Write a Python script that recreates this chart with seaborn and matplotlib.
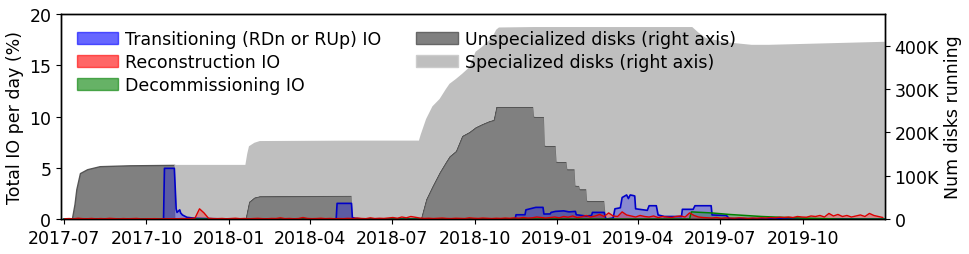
import matplotlib
matplotlib.use("Agg")
import numpy as np
import pandas as pd
import matplotlib.pyplot as plt
import matplotlib.dates as mdates
from matplotlib.ticker import FuncFormatter
from matplotlib.patches import Patch
import seaborn as sns

# ---------------- data ----------------
# disks running (thousands), stacked: unspecialized at bottom, specialized on top
disk_dates = ["2017-07-07", "2017-07-10", "2017-07-13", "2017-07-15", "2017-07-19", "2017-07-27",
              "2017-08-10", "2017-09-12", "2017-11-01", "2017-11-02", "2018-01-19", "2018-01-21",
              "2018-01-23", "2018-01-29", "2018-02-04", "2018-05-17", "2018-05-18", "2018-07-31",
              "2018-08-02", "2018-08-08", "2018-08-15", "2018-08-23", "2018-08-30", "2018-09-03",
              "2018-09-10", "2018-09-17", "2018-09-25", "2018-10-02", "2018-10-09", "2018-10-17",
              "2018-10-22", "2018-10-25", "2018-10-28", "2018-12-05", "2018-12-06", "2018-12-17",
              "2018-12-18", "2018-12-30", "2018-12-31", "2019-01-11", "2019-01-12", "2019-01-20",
              "2019-01-21", "2019-01-25", "2019-01-26", "2019-02-02", "2019-02-03", "2019-02-22",
              "2019-02-24", "2019-05-31", "2019-06-07", "2019-06-15", "2019-07-07", "2019-08-05",
              "2019-08-24", "2019-12-31"]
unspecialized_k = [0, 0, 35, 69, 106, 115,
                   122, 124, 125, 0, 0, 20,
                   40, 50, 53, 54, 0, 0,
                   0, 46, 76, 108, 132, 145,
                   157, 192, 201, 212, 219, 226,
                   229, 259, 259, 259, 236, 236,
                   169, 169, 132, 132, 115, 115,
                   77, 77, 69, 69, 42, 42,
                   0, 0, 0, 0, 0, 0,
                   0, 0]
specialized_k = [0, 0, 0, 0, 0, 0,
                 0, 0, 0, 125, 125, 130,
                 128, 126, 127, 127, 181, 181,
                 195, 185, 184, 169, 168, 167,
                 166, 143, 149, 174, 178, 186,
                 196, 178, 183, 184, 207, 207,
                 274, 274, 311, 311, 328, 328,
                 366, 366, 374, 374, 401, 401,
                 443, 443, 430, 418, 408, 402,
                 402, 409]

# Transitioning (RDn or RUp) IO, % of total IO per day
transition_dates = ["2017-07-01", "2017-10-20", "2017-10-21", "2017-11-01", "2017-11-03", "2017-11-04",
                    "2017-11-07", "2017-11-08", "2017-11-10", "2017-11-15", "2017-11-25", "2017-12-15",
                    "2018-01-12", "2018-04-30", "2018-05-01", "2018-05-17", "2018-05-18", "2018-05-22",
                    "2018-06-01", "2018-11-15", "2018-11-16", "2018-11-26", "2018-11-27", "2018-12-08",
                    "2018-12-16", "2018-12-17", "2018-12-24", "2018-12-25", "2018-12-30", "2019-01-08",
                    "2019-01-14", "2019-01-21", "2019-01-22", "2019-02-02", "2019-02-08", "2019-02-09",
                    "2019-02-22", "2019-02-24", "2019-03-04", "2019-03-06", "2019-03-12", "2019-03-14",
                    "2019-03-19", "2019-03-21", "2019-03-23", "2019-03-26", "2019-03-28", "2019-03-29",
                    "2019-04-11", "2019-04-13", "2019-04-21", "2019-04-23", "2019-04-30", "2019-05-19",
                    "2019-05-20", "2019-06-01", "2019-06-03", "2019-06-21", "2019-06-22", "2019-07-08",
                    "2019-07-11", "2019-12-31"]
transition_pct = [0.0, 0.0, 4.95, 4.95, 1.0, 0.65,
                  0.9, 0.6, 0.4, 0.17, 0.07, 0.03,
                  0.0, 0.02, 1.53, 1.53, 0.15, 0.05,
                  0.0, 0.0, 0.42, 0.42, 0.9, 1.14,
                  1.14, 0.49, 0.5, 0.65, 0.75, 0.8,
                  0.7, 0.75, 0.42, 0.3, 0.35, 0.65,
                  0.65, 0.0, 0.1, 1.0, 1.1, 2.1,
                  2.35, 2.0, 2.35, 2.3, 2.25, 1.0,
                  0.85, 1.3, 1.3, 0.4, 0.25, 0.25,
                  0.95, 0.95, 1.3, 1.3, 0.4, 0.35,
                  0.05, 0.0]

# Decommissioning IO
decommission_dates = ["2017-07-01", "2019-05-28", "2019-05-30", "2019-06-21", "2019-07-11",
                      "2019-08-16", "2019-09-27", "2019-10-30", "2019-11-10", "2019-12-31"]
decommission_pct = [0.0, 0.0, 0.7, 0.6, 0.45, 0.25, 0.1, 0.03, 0.0, 0.0]

# Reconstruction IO, sampled every 5 days from 2017-07-02
reconstruction_start = "2017-07-02"
reconstruction_pct = [
    0.03, 0.05, 0.02, 0.08, 0.04, 0.03, 0.06, 0.02, 0.05, 0.03, 0.07, 0.04,
    0.02, 0.05, 0.03, 0.04, 0.06, 0.02, 0.03, 0.05, 0.04, 0.02, 0.03, 0.05,
    0.04, 0.03, 0.05, 0.04, 0.06, 0.1, 1.0, 0.6, 0.08, 0.05,
    0.04, 0.06, 0.03, 0.05, 0.08, 0.04, 0.06, 0.03, 0.05, 0.07, 0.04, 0.03,
    0.06, 0.05, 0.12, 0.04, 0.06, 0.03, 0.05, 0.15, 0.06, 0.04, 0.05, 0.08,
    0.04, 0.06, 0.03, 0.05, 0.04, 0.07, 0.05, 0.1, 0.06, 0.04, 0.12, 0.05,
    0.08, 0.06, 0.1, 0.15, 0.08, 0.2, 0.12, 0.25, 0.18,
    0.1, 0.06, 0.08, 0.05, 0.07, 0.1, 0.06, 0.05, 0.08, 0.06, 0.05, 0.12,
    0.08, 0.06, 0.1, 0.07, 0.05, 0.08, 0.06, 0.1, 0.07, 0.12, 0.08, 0.15,
    0.1, 0.12, 0.2, 0.15, 0.1,
    0.15, 0.2, 0.12, 0.25, 0.18, 0.3, 0.15, 0.22, 0.35, 0.2, 0.3, 0.45,
    0.25, 0.6, 0.3, 0.25, 0.7, 0.4, 0.3, 0.2, 0.35, 0.25, 0.2, 0.3,
    0.15, 0.25, 0.2, 0.15, 0.25, 0.3, 0.2,
    0.6, 0.35, 0.2, 0.15, 0.12, 0.1, 0.15, 0.08, 0.12, 0.1, 0.08, 0.12,
    0.1, 0.06, 0.1, 0.08, 0.12, 0.1, 0.15, 0.12, 0.18, 0.15,
    0.2, 0.15, 0.25, 0.2, 0.18, 0.3, 0.25, 0.35, 0.2, 0.55, 0.3, 0.45,
    0.25, 0.35, 0.2, 0.3, 0.4, 0.25, 0.55, 0.35, 0.25, 0.15]

left_ticks = [0, 5, 10, 15, 20]
right_ticks_k = [0, 100, 200, 300, 400]

labels = ["Transitioning (RDn or RUp) IO", "Reconstruction IO", "Decommissioning IO",
          "Unspecialized disks (right axis)", "Specialized disks (right axis)"]

# ---------------- style ----------------
sns.set_theme(style="ticks", rc={
    "axes.edgecolor": "black", "axes.linewidth": 1.0,
    "xtick.color": "black", "ytick.color": "black",
    "text.color": "black", "axes.labelcolor": "black",
    "xtick.major.size": 3.5, "ytick.major.size": 3.5,
    "xtick.major.width": 0.8, "ytick.major.width": 0.8,
})
plt.rcParams["font.family"] = ["DejaVu Sans"]
FS = 12.5

disk = pd.DataFrame({"date": pd.to_datetime(disk_dates),
                     "unspec": unspecialized_k, "spec": specialized_k})
disk["total"] = disk["unspec"] + disk["spec"]
trans = pd.DataFrame({"date": pd.to_datetime(transition_dates), "pct": transition_pct})
decom = pd.DataFrame({"date": pd.to_datetime(decommission_dates), "pct": decommission_pct})
recon = pd.DataFrame({"date": pd.date_range(reconstruction_start, periods=len(reconstruction_pct), freq="5D"),
                      "pct": reconstruction_pct})

fig, ax = plt.subplots(figsize=(9.69, 2.55), dpi=100)
fig.subplots_adjust(left=0.063, right=0.913, bottom=0.137, top=0.941)
ax2 = ax.twinx()
# disks behind, IO in front
ax.set_zorder(ax2.get_zorder() + 1)
ax.patch.set_visible(False)

FILL_A = 0.28
# IO series (left axis)
ax.fill_between(trans["date"], 0, trans["pct"], color="blue", alpha=FILL_A, lw=0)
sns.lineplot(data=trans, x="date", y="pct", ax=ax, color="#0000c8", lw=1.2, estimator=None, legend=False)
ax.fill_between(decom["date"], 0, decom["pct"], color="green", alpha=FILL_A, lw=0)
sns.lineplot(data=decom, x="date", y="pct", ax=ax, color="green", lw=1.1, estimator=None, legend=False)
ax.fill_between(recon["date"], 0, recon["pct"], color="red", alpha=FILL_A, lw=0)
sns.lineplot(data=recon, x="date", y="pct", ax=ax, color="#dd0000", lw=1.0, estimator=None, legend=False)

# disks (right axis)
ax2.fill_between(disk["date"], 0, disk["unspec"], facecolor="#808080",
                 edgecolor="#555555", lw=1.0)
ax2.fill_between(disk["date"], disk["unspec"], disk["total"], facecolor="#bfbfbf",
                 edgecolor="none", lw=0)

ax.set_xlim(pd.Timestamp("2017-06-28"), pd.Timestamp("2019-12-31"))
ax.set_ylim(0, 20)
ax.set_yticks(left_ticks)
ax2.set_ylim(0, 473)
ax2.set_yticks(right_ticks_k)
ax2.yaxis.set_major_formatter(FuncFormatter(lambda v, p: "0" if v == 0 else f"{v:.0f}K"))
ax.xaxis.set_major_locator(mdates.MonthLocator(bymonth=[1, 4, 7, 10]))
ax.xaxis.set_major_formatter(mdates.DateFormatter("%Y-%m"))

ax.set_xlabel("")
ax.set_ylabel("Total IO per day (%)", fontsize=FS, labelpad=4)
ax2.set_ylabel("Num disks running", fontsize=FS, labelpad=4)
ax.tick_params(labelsize=FS)
ax2.tick_params(labelsize=FS)
for s in ax2.spines.values():
    s.set_visible(True)

handles = [
    Patch(facecolor=(0, 0, 1, 0.6), edgecolor=(0, 0, 1, 0.6)),
    Patch(facecolor=(1, 0, 0, 0.6), edgecolor=(1, 0, 0, 0.6)),
    Patch(facecolor=(0, 0.5, 0, 0.6), edgecolor=(0, 0.5, 0, 0.6)),
    Patch(facecolor="#808080", edgecolor="#666666"),
    Patch(facecolor="#bfbfbf", edgecolor="#cccccc"),
]
ax.legend(handles, labels, loc="upper left", ncol=2, frameon=False, fontsize=FS,
          handlelength=2.4, handletextpad=0.4, labelspacing=0.3, columnspacing=2.0)

fig.savefig("out.png", dpi=100)
